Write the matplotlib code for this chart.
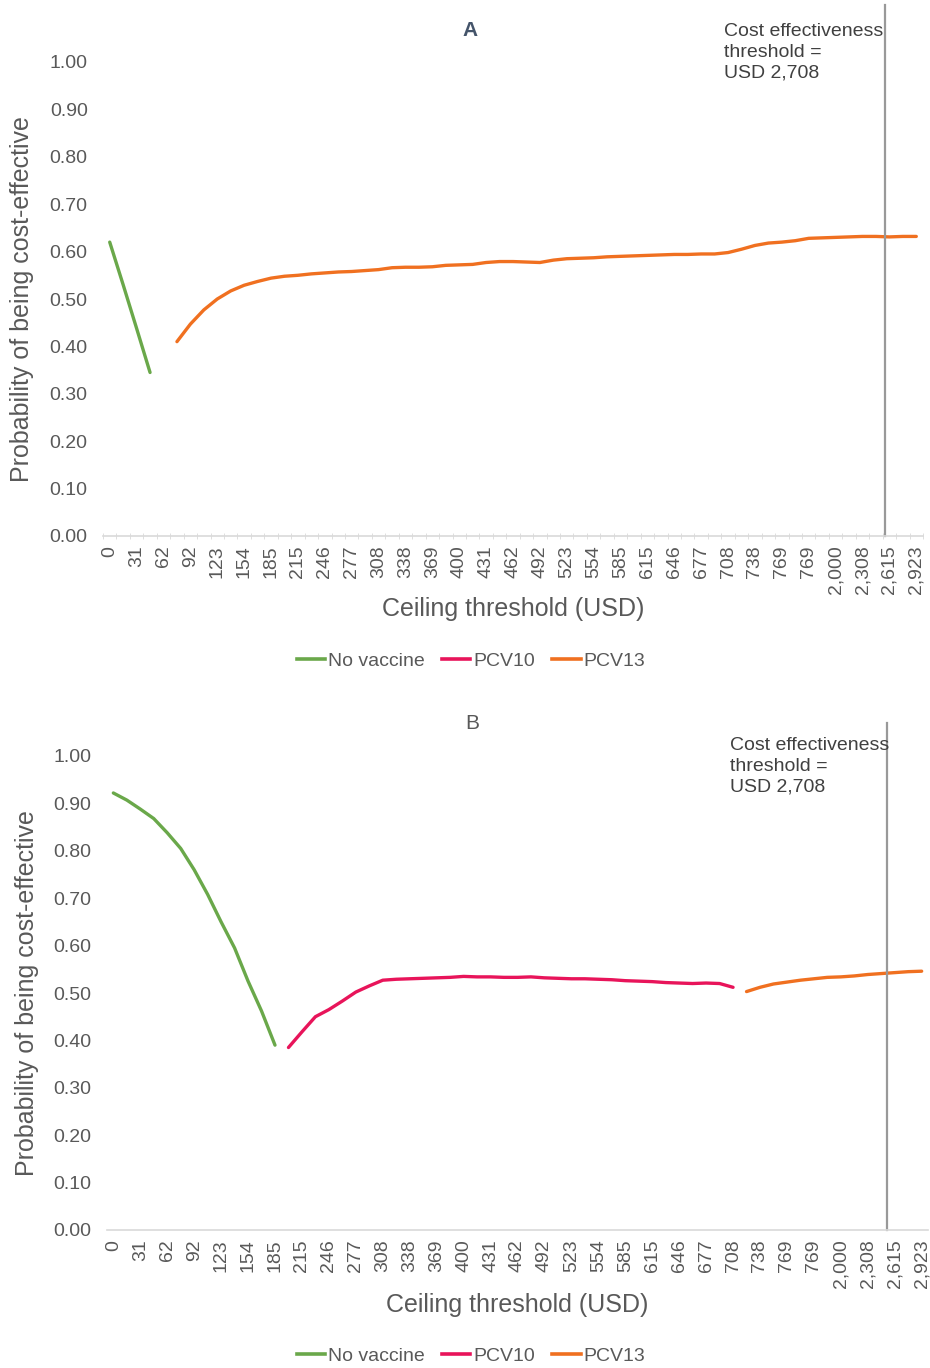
import numpy as np
import matplotlib
matplotlib.use("Agg")
import matplotlib.pyplot as plt
from matplotlib.lines import Line2D
from matplotlib.ticker import FixedLocator

plt.rcParams['font.family'] = ['Liberation Sans', 'DejaVu Sans']

# Category axis: 61 ceiling thresholds, every second one labelled
x_labels = ["0", "31", "62", "92", "123", "154", "185", "215", "246", "277",
            "308", "338", "369", "400", "431", "462", "492", "523", "554", "585",
            "615", "646", "677", "708", "738", "769", "769", "2,000", "2,308",
            "2,615", "2,923"]
n_cat = 61

# Panel A (start index, values)
a_novac_start = 0
a_novac = [0.620, 0.530, 0.438, 0.345]
a_pcv13_start = 5
a_pcv13 = [0.410, 0.447, 0.477, 0.500, 0.517, 0.529, 0.537, 0.544, 0.548, 0.550,
           0.553, 0.555, 0.557, 0.558, 0.560, 0.562, 0.566, 0.567, 0.567, 0.568,
           0.571, 0.572, 0.573, 0.577, 0.579, 0.579, 0.578, 0.577, 0.582, 0.585,
           0.586, 0.587, 0.589, 0.590, 0.591, 0.592, 0.593, 0.594, 0.594, 0.595,
           0.595, 0.598, 0.605, 0.613, 0.618, 0.620, 0.623, 0.628, 0.629, 0.630,
           0.631, 0.632, 0.632, 0.631, 0.632, 0.632]

# Panel B
b_novac_start = 0
b_novac = [0.922, 0.907, 0.888, 0.868, 0.838, 0.805, 0.760, 0.708, 0.650, 0.595,
           0.525, 0.462, 0.390]
b_pcv10_start = 13
b_pcv10 = [0.385, 0.418, 0.450, 0.465, 0.483, 0.502, 0.515, 0.527, 0.529, 0.530,
           0.531, 0.532, 0.533, 0.535, 0.534, 0.534, 0.533, 0.533, 0.534, 0.532,
           0.531, 0.530, 0.530, 0.529, 0.528, 0.526, 0.525, 0.524, 0.522, 0.521,
           0.520, 0.521, 0.520, 0.512]
b_pcv13_start = 47
b_pcv13 = [0.503, 0.512, 0.519, 0.523, 0.527, 0.530, 0.533, 0.534, 0.536, 0.539,
           0.541, 0.543, 0.545, 0.546]

threshold_a = 57.7
threshold_b = 57.4

green = '#6AA84A'
pink = '#E8145A'
orange = '#F07020'
text_col = '#595959'
axis_col = '#D9D9D9'

fig = plt.figure(figsize=(9.3, 13.68), dpi=100)
W, H = 930, 1368


def make_axes(left, right, top, bottom):
    return fig.add_axes([left / W, 1 - bottom / H, (right - left) / W, (bottom - top) / H])


def style(ax, minor_ticks):
    ax.set_xlim(-0.5, n_cat - 0.5)
    ax.set_ylim(0, 1.0)
    for s in ['top', 'right', 'left']:
        ax.spines[s].set_visible(False)
    ax.spines['bottom'].set_color(axis_col)
    ax.spines['bottom'].set_linewidth(1.2)
    ax.set_yticks(np.arange(0, 1.01, 0.1))
    ax.set_yticklabels([f"{v:.2f}" for v in np.arange(0, 1.01, 0.1)])
    ax.tick_params(axis='y', length=0, pad=11, labelsize=14, labelcolor=text_col)
    ax.set_xticks(range(0, n_cat, 2))
    ax.set_xticklabels(x_labels, rotation=90)
    ax.tick_params(axis='x', length=0, pad=7, labelsize=14, labelcolor=text_col)
    if minor_ticks:
        ax.xaxis.set_minor_locator(FixedLocator(np.arange(-0.5, n_cat, 1)))
        ax.tick_params(axis='x', which='minor', length=5, direction='inout', color=axis_col)
    ax.set_xlabel("Ceiling threshold (USD)", fontsize=18, color=text_col)
    ax.set_ylabel("Probability of being cost-effective", fontsize=18, color=text_col)
    ax.xaxis.label.set_va('center')
    ax.yaxis.label.set_va('center')


def plot_series(ax, start, vals, color):
    xs = np.arange(start, start + len(vals))
    ax.plot(xs, vals, color=color, lw=2.4, solid_capstyle='round')


# ---- Panel A
axA = make_axes(103, 923, 62, 536)
style(axA, True)
plot_series(axA, a_novac_start, a_novac, green)
plot_series(axA, a_pcv13_start, a_pcv13, orange)
axA.axvline(threshold_a, ymin=0, ymax=1 + 57 / 474, color='#999999', lw=1.6, clip_on=False)
axA.text(0.757, 1.082, "Cost effectiveness\nthreshold =\nUSD 2,708", transform=axA.transAxes,
         ha='left', va='top', fontsize=14, color='#404040', linespacing=1.3)
axA.text(0.4476, 1.0675, "A", transform=axA.transAxes, ha='center', va='center',
         fontsize=15, fontweight='bold', color='#44546A')
axA.xaxis.set_label_coords(0.5, -0.154)
axA.yaxis.set_label_coords(-0.0988, 0.5)

# ---- Panel B
axB = make_axes(106.6, 928.4, 756, 1230)
style(axB, False)
plot_series(axB, b_novac_start, b_novac, green)
plot_series(axB, b_pcv10_start, b_pcv10, pink)
plot_series(axB, b_pcv13_start, b_pcv13, orange)
axB.axvline(threshold_b, ymin=0, ymax=1 + 33 / 474, color='#999999', lw=1.6, clip_on=False)
axB.text(0.758, 1.040, "Cost effectiveness\nthreshold =\nUSD 2,708", transform=axB.transAxes,
         ha='left', va='top', fontsize=14, color='#404040', linespacing=1.3)
axB.text(0.4446, 1.0696, "B", transform=axB.transAxes, ha='center', va='center',
         fontsize=15, color=text_col)
axB.xaxis.set_label_coords(0.5, -0.158)
axB.yaxis.set_label_coords(-0.0969, 0.5)

# ---- Legends
handles = [Line2D([], [], color=green, lw=2.6),
           Line2D([], [], color=pink, lw=2.6),
           Line2D([], [], color=orange, lw=2.6)]
names = ["No vaccine", "PCV10", "PCV13"]
for ycen in (661, 1356):
    leg = fig.legend(handles, names, loc='center', bbox_to_anchor=(471 / W, 1 - ycen / H),
                     ncol=3, frameon=False, fontsize=14, handlelength=1.45,
                     handletextpad=0.15, columnspacing=0.9, borderaxespad=0, borderpad=0)
    for t in leg.get_texts():
        t.set_color(text_col)

fig.savefig("out.png", dpi=100)
